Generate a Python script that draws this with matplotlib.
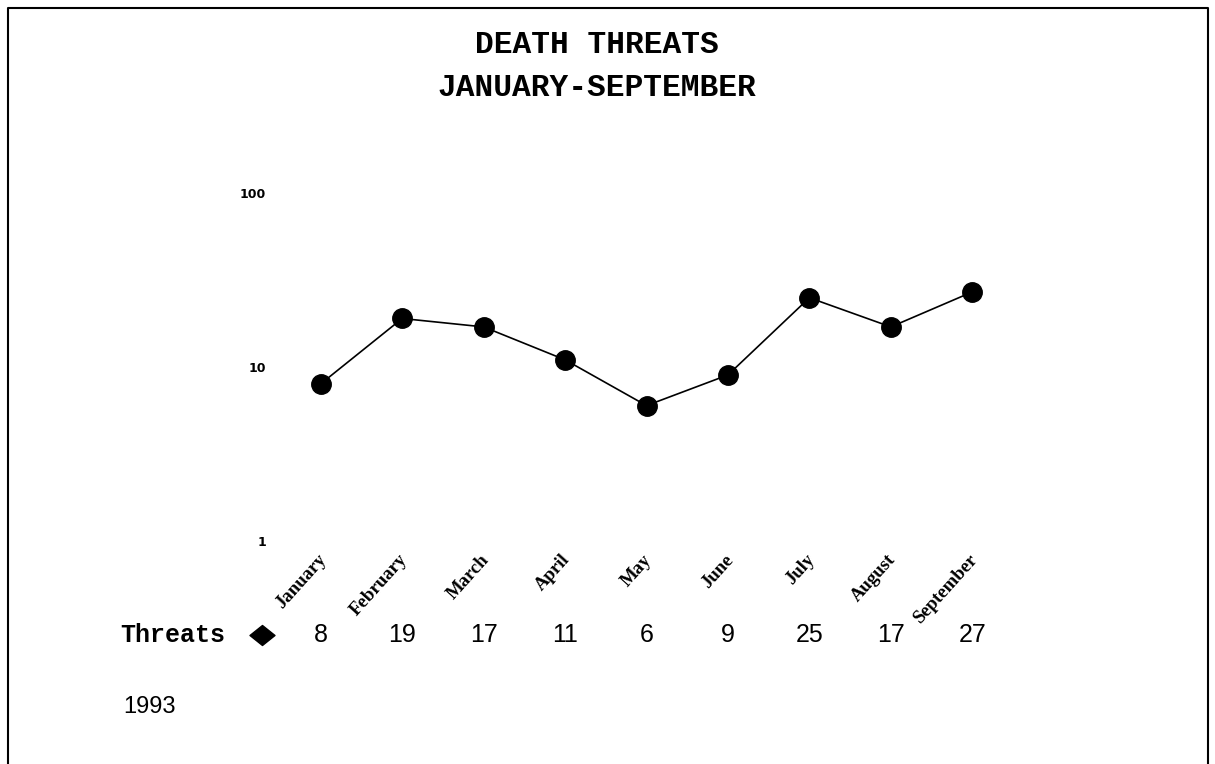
import matplotlib
matplotlib.use("Agg")
import matplotlib.pyplot as plt
from matplotlib.lines import Line2D
from matplotlib.path import Path
from matplotlib.transforms import blended_transform_factory, ScaledTranslation

# datos del grafico
months = ['January', 'February', 'March', 'April', 'May',
          'June', 'July', 'August', 'September']
threats = [8, 19, 17, 11, 6, 9, 25, 17, 27]
y_ticks = [1, 10, 100]
y_tick_labels = ['1', '10', '100']
series_name = 'Threats'
year_label = '1993'

W, H = 1215, 764
fig = plt.figure(figsize=(W / 100, H / 100), dpi=100)

# ejes en coordenadas de pixel
left, right, top, bottom = 280, 1013, 193, 541
ax = fig.add_axes([left / W, 1 - bottom / H, (right - left) / W, (bottom - top) / H])

x = list(range(len(months)))
ax.plot(x, threats, color='black', linewidth=1.2, marker='o',
        markersize=14, markerfacecolor='black', zorder=3)

ax.set_yscale('log')
ax.set_ylim(1, 100)
ax.set_xlim(-0.5, len(months) - 0.5)
ax.set_yticks(y_ticks)
ax.set_yticklabels(y_tick_labels, fontsize=9, fontweight='bold')
ax.minorticks_off()
ax.set_xticks([])
ax.tick_params(axis='y', length=0, pad=10)
for s in ax.spines.values():
    s.set_visible(False)

# etiquetas de meses giradas
offset = ax.transData + ScaledTranslation(0, -0.16, fig.dpi_scale_trans)
for i, m in enumerate(months):
    ax.text(i + 0.03, 1, m, rotation=48, ha='right', va='center',
            rotation_mode='anchor', fontsize=13.5, fontweight='bold',
            family='Liberation Serif', transform=offset, clip_on=False)

# fila de la tabla de datos
row_y = 1 - 635 / H
trans = blended_transform_factory(ax.transData, fig.transFigure)
for i, v in enumerate(threats):
    ax.text(i, row_y, str(v), transform=trans, ha='center', va='center',
            fontsize=18, family='Liberation Sans')
fig.text(120 / W, row_y, series_name, ha='left', va='center',
         fontsize=18, fontweight='bold', family='Liberation Mono')
diamond = Path([(-1, 0), (0, 0.8), (1, 0), (0, -0.8), (-1, 0)],
               [Path.MOVETO, Path.CURVE3, Path.LINETO, Path.CURVE3, Path.CLOSEPOLY][:1]
               + [Path.LINETO] * 3 + [Path.CLOSEPOLY])
fig.add_artist(Line2D([262 / W], [row_y], marker=diamond, markersize=18,
                      color='black', transform=fig.transFigure))

# titulo
fig.text(597 / W, 1 - 45 / H, 'DEATH THREATS', ha='center', va='center',
         fontsize=22.5, fontweight='bold', family='Liberation Mono')
fig.text(597 / W, 1 - 88 / H, 'JANUARY-SEPTEMBER', ha='center', va='center',
         fontsize=22.5, fontweight='bold', family='Liberation Mono')

fig.text(123 / W, 1 - 707 / H, year_label, ha='left', va='center',
         fontsize=17, family='Liberation Sans')

# marco
fig.add_artist(Line2D([8 / W, 8 / W, 1208 / W, 1208 / W], [0, 1 - 8 / H, 1 - 8 / H, 0],
                      color='black', linewidth=1.5, transform=fig.transFigure))

fig.savefig('out.png', dpi=100)
